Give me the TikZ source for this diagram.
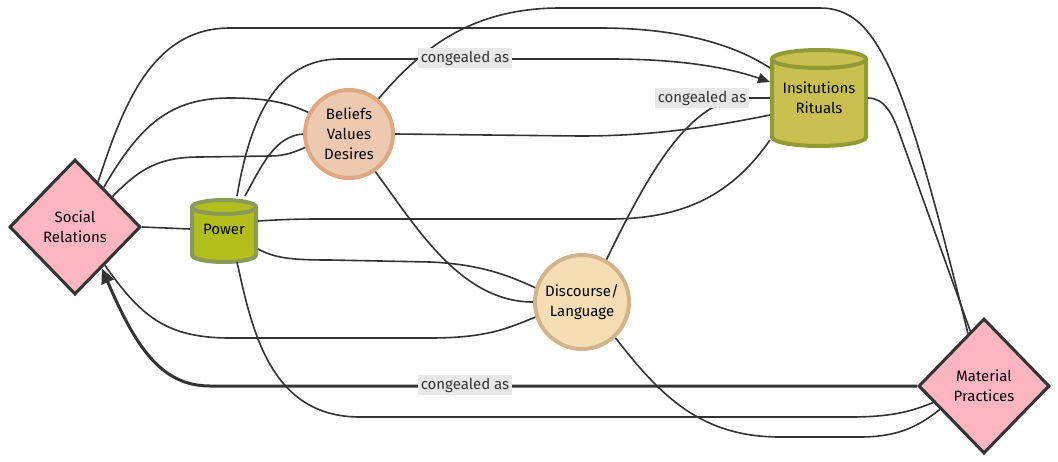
\documentclass[tikz,border=0pt]{standalone}
\usepackage{fontspec}
\setmainfont{Fira Sans}
\usetikzlibrary{shapes.geometric,arrows.meta}
\definecolor{edgec}{HTML}{333333}
\definecolor{pinkc}{HTML}{FFB6C1}
\definecolor{powfill}{HTML}{B2BE19}
\definecolor{powdraw}{HTML}{8A9A5B}
\definecolor{insfill}{HTML}{C9C050}
\definecolor{insdraw}{HTML}{8F9B34}
\definecolor{belfill}{HTML}{EDC9AF}
\definecolor{beldraw}{HTML}{E0A882}
\definecolor{disfill}{HTML}{F5DEB3}
\definecolor{disdraw}{HTML}{D2B48C}
\definecolor{lblbg}{HTML}{E8E8E8}
% cx, cy, rx, half height between ellipse centres, ry, fill, stroke
\newcommand{\mycyl}[7]{%
  \fill[#6] ({#1-#3},{#2-#4}) rectangle ({#1+#3},{#2+#4});
  \fill[#6] (#1,{#2+#4}) ellipse [x radius=#3, y radius=#5];
  \draw[#7, line width=4pt] ({#1-#3},{#2-#4}) -- ({#1-#3},{#2+#4})
    .. controls ({#1-#3},{#2+#4+0.5523*#5}) and ({#1-0.5523*#3},{#2+#4+#5}) .. (#1,{#2+#4+#5})
    .. controls ({#1+0.5523*#3},{#2+#4+#5}) and ({#1+#3},{#2+#4+0.5523*#5}) .. ({#1+#3},{#2+#4})
    -- ({#1+#3},{#2-#4});
  \filldraw[fill=#6, draw=#7, line width=4pt] (#1,{#2-#4}) ellipse [x radius=#3, y radius=#5];
}
\begin{document}
\begin{tikzpicture}[x=1pt,y=-1pt,
  txt/.style={font=\fontsize{15}{20}\selectfont, text=black, align=center},
  dia/.style={txt, diamond, draw=edgec, line width=3pt, fill=pinkc, inner sep=0pt,
    minimum width=131pt, minimum height=135pt},
  circ/.style={txt, circle, line width=4pt, inner sep=0pt},
  holder/.style={txt, rectangle, inner sep=0pt, outer sep=0pt},
  conn/.style={draw=edgec, line width=1.6pt},
  arr/.style={-{Triangle[length=12pt,width=10pt]}},
  lbl/.style={font=\fontsize{15}{17}\selectfont, text=edgec, fill=lblbg, inner sep=2.5pt}]
\useasboundingbox (0,0) rectangle (1058,461);

% nodes
\node[dia] (SR) at (75,227) {Social\\Relations};
\node[dia] (M) at (984,386) {Material\\Practices};
\node[circ, fill=belfill, draw=beldraw, minimum size=88pt] (B) at (349,134) {Beliefs\\Values\\Desires};
\node[circ, fill=disfill, draw=disdraw, minimum size=94pt] (D) at (582,302) {Discourse/\\Language};
\mycyl{224}{231}{32}{24}{7}{powfill}{powdraw}
\node[holder, minimum width=68pt, minimum height=66pt] (P) at (224,229) {Power};
\mycyl{819}{98}{47}{39}{9}{insfill}{insdraw}
\node[holder, minimum width=98pt, minimum height=100pt] (I) at (819,98) {\raisebox{8pt}{\parbox{95pt}{\centering Insitutions\\Rituals}}};

% connectors
\draw[conn] (SR.63) .. controls (122,110) and (150,28) .. (230,28) -- (600,28)
  .. controls (680,28) and (735,45) .. ([yshift=-20pt]I.north west);
\draw[conn] (SR.54) .. controls (140,125) and (170,98) .. (230,98)
  .. controls (270,98) and (290,104) .. (B.152);
\draw[conn] (SR.39) .. controls (140,168) and (160,157) .. (200,157) -- (270,156)
  .. controls (285,156) and (295,152) .. (B.197);
\draw[conn] (SR.east) -- (P.west);
\draw[conn] (SR.-52) .. controls (140,315) and (165,338) .. (230,338) -- (430,338)
  .. controls (490,338) and (510,327) .. (D.198);
\draw[conn] (B.50) .. controls (420,50) and (470,8) .. (560,8) -- (820,8)
  .. controls (880,8) and (905,80) .. (M.107);
\draw[conn, arr] ([xshift=13pt]P.north) .. controls (250,120) and (275,59) .. (340,59) -- (610,59)
  .. controls (690,59) and (735,70) .. ([yshift=-34pt]I.north west);
\draw[conn] ([xshift=21pt]P.north) .. controls (262,165) and (275,136) .. (B.west);
\draw[conn] ([yshift=8pt]P.east) .. controls (275,220) and (290,219) .. (320,219) -- (610,219)
  .. controls (690,219) and (735,190) .. ([yshift=8pt]I.south west);
\draw[conn] ([yshift=-20pt]P.east) .. controls (275,258) and (290,260) .. (330,260) -- (430,262)
  .. controls (480,264) and (510,276) .. (D.163);
\draw[conn] ([xshift=13pt]P.south) .. controls (252,330) and (270,417) .. (360,417) -- (850,417)
  .. controls (890,417) and (910,412) .. (M.198);
\draw[conn] (B.east) -- (580,136) .. controls (660,136) and (720,125) .. ([yshift=-67pt]I.north west);
\draw[conn] (B.-55) .. controls (415,225) and (460,302) .. (D.west);
\draw[conn] (I.east) .. controls (885,98) and (893,115) .. (900,135) -- (M.104);
\draw[conn] (D.60) .. controls (650,170) and (690,100) .. (745,98) -- (I.west);
\draw[conn] (D.-47) .. controls (660,395) and (700,437) .. (780,437) -- (860,437)
  .. controls (900,437) and (920,425) .. (M.208);
\draw[conn, line width=3pt, -{Triangle[length=15pt,width=13pt]}] (M.west) -- (210,386)
  .. controls (160,386) and (135,345) .. (SR.-57);

% edge labels
\node[lbl] (l1) at (465,58) {congealed as};
\node[lbl] (l2) at (702,98) {congealed as};
\node[lbl] (l3) at (465,385) {congealed as};
\end{tikzpicture}
\end{document}
